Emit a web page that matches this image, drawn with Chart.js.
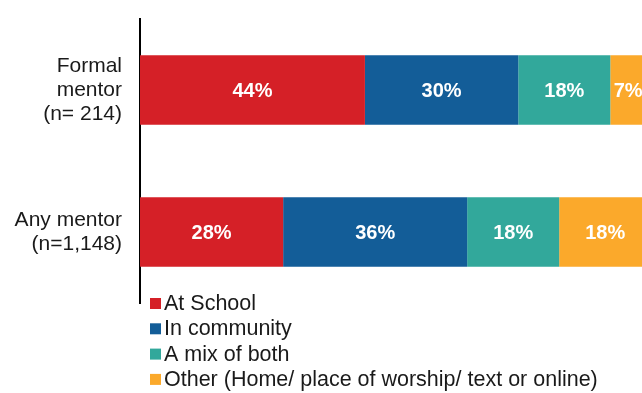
<!DOCTYPE html>
<html>
<head>
<meta charset="utf-8">
<script src="https://cdn.jsdelivr.net/npm/chart.js@4/dist/chart.umd.min.js"></script>
<style>
	html, body { margin: 0; padding: 0; background: #fff; overflow: hidden; }
	#wrap { width: 642px; height: 393px; position: relative; }
</style>
</head>
<body>
<div id="wrap"><canvas id="mentor" width="642" height="393"></canvas></div>
<script>
// podatki
const skupine = [["Formal", "mentor", "(n= 214)"], ["Any mentor", "(n=1,148)"]];
const kraji = ["At School", "In community", "A mix of both", "Other (Home/ place of worship/ text or online)"];
const barve = ["#d52027", "#135d98", "#32a89b", "#fba92b"];
const vSoli = [44, 28];
const vSkupnosti = [30, 36];
const oboje = [18, 18];
const drugo = [7, 18];

const vrednosti = [vSoli, vSkupnosti, oboje, drugo];

// oznake v stolpcih
const oznakePlugin = {
	id: "oznake",
	afterDatasetsDraw(chart) {
		let ctx = chart.ctx;
		ctx.save();
		ctx.fillStyle = "#fff";
		ctx.font = "bold 20px 'Liberation Sans', Arial, sans-serif";
		ctx.textAlign = "center";
		ctx.textBaseline = "middle";
		chart.data.datasets.forEach((ds, i) => {
			chart.getDatasetMeta(i).data.forEach((bar, j) => {
				let x = (bar.x + bar.base) / 2;
				ctx.fillText(ds.data[j] + "%", x, bar.y + 1);
			});
		});
		ctx.restore();
	}
};

// legenda v stolpcu pod grafom
const legendaPlugin = {
	id: "legenda",
	afterDraw(chart) {
		let ctx = chart.ctx;
		let area = chart.chartArea;
		ctx.save();
		ctx.font = "21.5px 'Liberation Sans', Arial, sans-serif";
		ctx.textBaseline = "middle";
		chart.data.datasets.forEach((ds, i) => {
			let y = area.bottom + i * 25.3;
			ctx.fillStyle = ds.backgroundColor;
			ctx.fillRect(area.left + 10, y - 5, 11, 11);
			ctx.fillStyle = "#1a1a1a";
			ctx.fillText(ds.label, area.left + 24, y + 1);
		});
		ctx.restore();
	}
};

let graf = new Chart("mentor", {
	type: "bar",
	data: {
		labels: skupine,
		datasets: kraji.map((k, i) => ({
			label: k,
			data: vrednosti[i],
			backgroundColor: barve[i],
			categoryPercentage: 1,
			barPercentage: 0.49
		}))
	},
	options: {
		indexAxis: "y",
		responsive: false,
		animation: false,
		layout: { padding: { top: 19, bottom: 90, left: 0, right: 0 } },
		plugins: {
			legend: { display: false },
			tooltip: { enabled: false }
		},
		scales: {
			x: {
				stacked: true,
				min: 0,
				max: 98.2,
				display: false
			},
			y: {
				stacked: true,
				grid: { display: false },
				border: { display: true, color: "#000", width: 2 },
				ticks: {
					color: "#1a1a1a",
					padding: 10,
					font: { family: "'Liberation Sans', Arial, sans-serif", size: 21, lineHeight: 1.15 }
				},
				afterFit(s) {
					s.width = 140;
					s.paddingTop = 0;
					s.paddingBottom = 0;
				}
			}
		}
	},
	plugins: [oznakePlugin, legendaPlugin]
});
</script>
</body>
</html>
